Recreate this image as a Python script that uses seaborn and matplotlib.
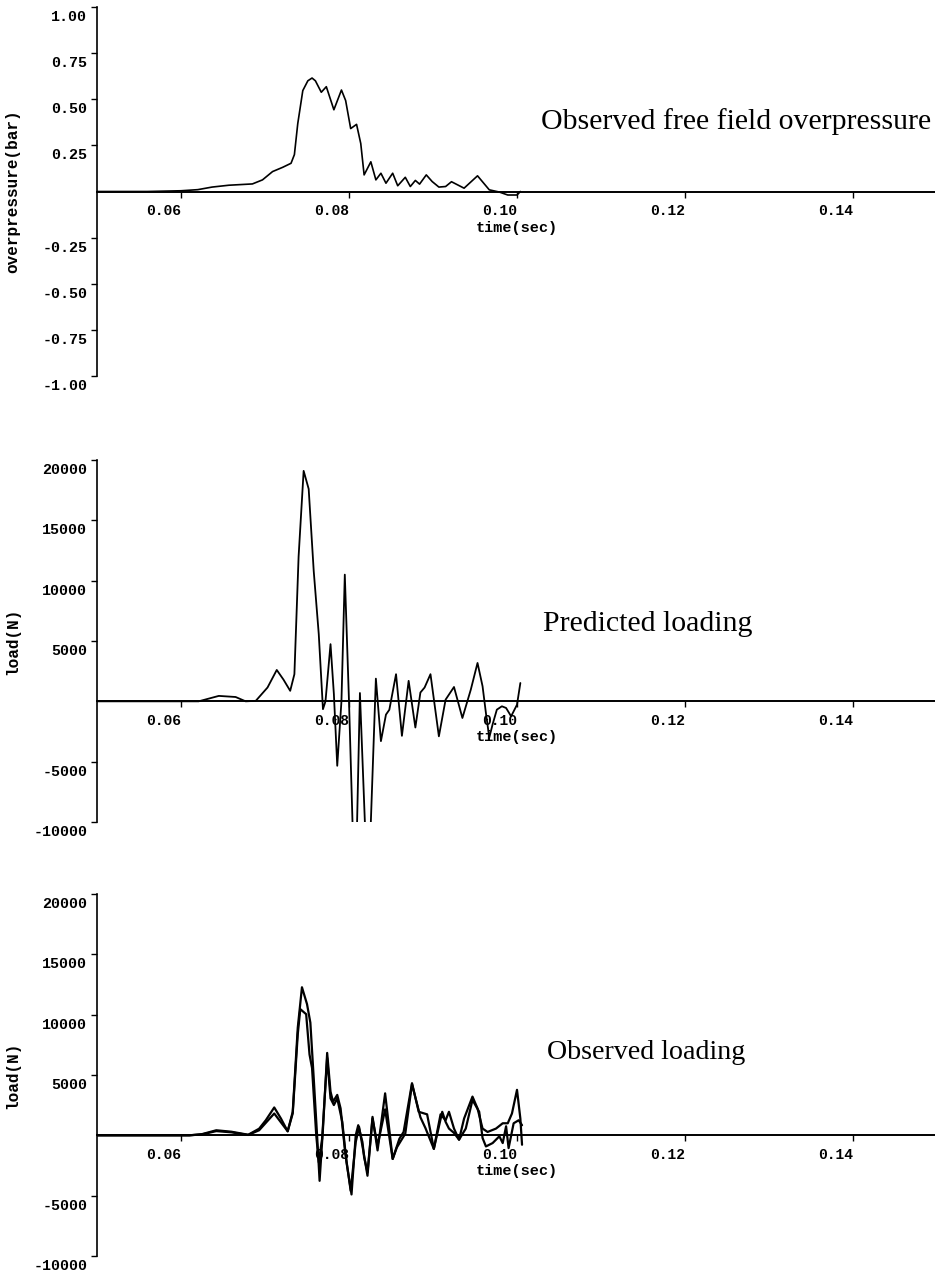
import numpy as np
import pandas as pd
import matplotlib
matplotlib.use("Agg")
import matplotlib.pyplot as plt
import matplotlib.transforms as mtransforms
import seaborn as sns

sns.set_theme(style="ticks")
plt.rcParams['font.family'] = ['Liberation Mono', 'DejaVu Sans']
plt.rcParams.update({'axes.edgecolor': 'black', 'xtick.color': 'black', 'ytick.color': 'black',
                     'text.color': 'black', 'axes.labelcolor': 'black'})

# ---------------- data ----------------
x_ticks = [0.06, 0.08, 0.10, 0.12, 0.14]
x_tick_labels = ['0.06', '0.08', '0.10', '0.12', '0.14']

op_ticks = [1.00, 0.75, 0.50, 0.25, -0.25, -0.50, -0.75, -1.00]
op_tick_labels = ['1.00', '0.75', '0.50', '0.25', '-0.25', '-0.50', '-0.75', '-1.00']
load_ticks = [20000, 15000, 10000, 5000, -5000, -10000]
load_tick_labels = ['20000', '15000', '10000', '5000', '-5000', '-10000']

# Observed free field overpressure (bar)
t_op = [0.0500, 0.0560, 0.0600, 0.0620, 0.0637, 0.0657, 0.0685, 0.0697, 0.0709, 0.0721,
        0.0731, 0.0735, 0.0739, 0.0745, 0.0751, 0.0756, 0.0760, 0.0767, 0.0773, 0.0782,
        0.0791, 0.0796, 0.0802, 0.0809, 0.0814, 0.0818, 0.0826, 0.0832, 0.0838, 0.0844,
        0.0852, 0.0858, 0.0867, 0.0873, 0.0879, 0.0884, 0.0892, 0.0899, 0.0907, 0.0915,
        0.0922, 0.0937, 0.0953, 0.0967, 0.0979, 0.0989, 0.1000, 0.1004]
p_op = [0.000, 0.000, 0.004, 0.010, 0.024, 0.034, 0.041, 0.063, 0.108, 0.131,
        0.153, 0.200, 0.368, 0.547, 0.600, 0.615, 0.600, 0.538, 0.568, 0.443,
        0.550, 0.493, 0.341, 0.364, 0.260, 0.090, 0.161, 0.063, 0.099, 0.045,
        0.099, 0.031, 0.077, 0.027, 0.060, 0.040, 0.090, 0.054, 0.024, 0.027,
        0.053, 0.018, 0.085, 0.009, -0.003, -0.019, -0.019, 0.000]

# Predicted loading (N)
t_pred = [0.0500, 0.0600, 0.0621, 0.0645, 0.0665, 0.0677, 0.0689, 0.0703, 0.0714, 0.0722,
          0.0730, 0.0735, 0.0740, 0.0746, 0.0752, 0.0758, 0.0764, 0.0769, 0.0772, 0.0778,
          0.0782, 0.0786, 0.0791, 0.0795, 0.0800, 0.0805, 0.0809, 0.0813, 0.0820, 0.0825,
          0.0832, 0.0838, 0.0844, 0.0848, 0.0856, 0.0863, 0.0871, 0.0879, 0.0885, 0.0890,
          0.0897, 0.0907, 0.0915, 0.0925, 0.0935, 0.0945, 0.0953, 0.0959, 0.0963, 0.0967,
          0.0971, 0.0976, 0.0982, 0.0987, 0.0993, 0.1000, 0.1004]
f_pred = [0, 0, 0, 450, 360, 0, 40, 1145, 2600, 1800,
          870, 2250, 12000, 19100, 17600, 10800, 5570, -650, 0, 4740,
          600, -5340, 0, 10500, 0, -12000, -12000, 690, -12000, -12000,
          1880, -3300, -1100, -700, 2250, -2860, 1700, -2170, 730, 1145,
          2250, -2900, 140, 1190, -1380, 970, 3180, 1250, -970, -3000,
          -1900, -690, -410, -550, -1240, -280, 1520]

# Observed loading, gauge 1 (N)
t_obs1 = [0.0500, 0.0610, 0.0625, 0.0642, 0.0660, 0.0680, 0.0693, 0.0701, 0.0711, 0.0719,
          0.0727, 0.0733, 0.0739, 0.0744, 0.0750, 0.0754, 0.0758, 0.0762, 0.0765, 0.0769,
          0.0774, 0.0778, 0.0781, 0.0786, 0.0790, 0.0795, 0.0802, 0.0808, 0.0812, 0.0818,
          0.0822, 0.0828, 0.0834, 0.0843, 0.0852, 0.0860, 0.0865, 0.0875, 0.0883, 0.0893,
          0.0901, 0.0909, 0.0915, 0.0919, 0.0925, 0.0931, 0.0937, 0.0947, 0.0953, 0.0959,
          0.0965, 0.0975, 0.0983, 0.0989, 0.0994, 0.1000, 0.1004, 0.1006]
f_obs1 = [0, 0, 100, 420, 300, 50, 550, 1255, 2310, 1390,
          335, 1950, 8920, 12270, 10880, 9340, 4740, 0, -3770, 550,
          6830, 3620, 2790, 3350, 2230, -1120, -4600, -560, 700, -1670,
          -3350, 1530, -1250, 3480, -1960, -280, 280, 4320, 1950, 1740,
          -1120, 1740, 1250, 1950, 560, -360, 1390, 3210, 2230, 560,
          280, 560, 1000, 1000, 1810, 3770, 1390, -780]

# Observed loading, gauge 2 (N)
t_obs2 = [0.0500, 0.0610, 0.0625, 0.0642, 0.0660, 0.0680, 0.0693, 0.0711, 0.0727, 0.0733,
          0.0739, 0.0742, 0.0749, 0.0753, 0.0756, 0.0761, 0.0764, 0.0768, 0.0774, 0.0778,
          0.0782, 0.0786, 0.0792, 0.0797, 0.0803, 0.0808, 0.0811, 0.0816, 0.0818, 0.0822,
          0.0828, 0.0834, 0.0843, 0.0852, 0.0857, 0.0867, 0.0875, 0.0885, 0.0891, 0.0901,
          0.0911, 0.0915, 0.0919, 0.0925, 0.0931, 0.0939, 0.0947, 0.0955, 0.0959, 0.0963,
          0.0971, 0.0979, 0.0983, 0.0987, 0.0990, 0.0996, 0.1002, 0.1006]
f_obs2 = [0, 0, 80, 350, 250, 30, 420, 1810, 335, 1810,
          8370, 10460, 10040, 6700, 5580, 0, -2230, -280, 6410, 3060,
          2510, 3060, 1120, -2230, -4900, 0, 840, -560, -1810, -3070,
          1390, -840, 2150, -1960, -1000, 140, 4250, 1500, 600, -1120,
          1950, 1120, 560, 200, -360, 560, 2930, 1950, -220, -920,
          -640, -80, -640, 750, -1060, 1000, 1250, 840]

# ---------------- figure ----------------
fig = plt.figure(figsize=(9.35, 12.72), dpi=100)
W, H = 935.0, 1272.0
left = 97 / W
width = (935 - 97) / W
XMAX = 0.05 + 838 / 8400.0
shift_down = mtransforms.ScaledTranslation(0, -3 / 100.0, fig.dpi_scale_trans)


def make_axes(top_px, bot_px):
    return fig.add_axes([left, 1 - bot_px / H, width, (bot_px - top_px) / H])


def style(ax, yticks, ylabels, ylim, ylabel):
    ax.set_xlim(0.05, XMAX)
    ax.set_ylim(*ylim)
    for s in ['top', 'right']:
        ax.spines[s].set_visible(False)
    ax.spines['bottom'].set_position(('data', 0))
    ax.spines['left'].set_linewidth(1.2)
    ax.spines['bottom'].set_linewidth(1.4)
    ax.set_xticks(x_ticks)
    ax.set_xticklabels(x_tick_labels, ha='right', fontweight='bold', fontsize=10.5)
    ax.set_yticks(yticks)
    ax.set_yticklabels(ylabels, va='top', fontweight='bold', fontsize=10.8)
    ax.tick_params(axis='both', direction='out', length=4, width=1)
    ax.tick_params(axis='x', pad=5)
    ax.tick_params(axis='y', pad=3)
    for lab in ax.get_yticklabels():
        lab.set_transform(lab.get_transform() + shift_down)
    ax.set_xlabel('')
    ax.set_ylabel(ylabel, fontsize=11.5, fontweight='bold')
    ax.yaxis.set_label_coords(-0.091, 0.5)
    ax.annotate('time(sec)', xy=(0.10, 0), xycoords='data', xytext=(0, -26),
                textcoords='offset points', ha='center', va='center',
                fontweight='bold', fontsize=11)
    ax.patch.set_alpha(0)


serif = ['Liberation Serif', 'DejaVu Serif']

# Panel 1
ax1 = make_axes(7, 376)
sns.lineplot(x=t_op, y=p_op, ax=ax1, color='black', linewidth=1.2, sort=False, estimator=None)
style(ax1, op_ticks, op_tick_labels, (-1.0, 1.0), 'overpressure(bar)')
ax1.text(0.1029, 0.380, 'Observed free field overpressure', family=serif, fontsize=21.5,
         ha='left', va='center')

# Panel 2
ax2 = make_axes(460, 822)
sns.lineplot(x=t_pred, y=f_pred, ax=ax2, color='black', linewidth=1.3, sort=False, estimator=None)
style(ax2, load_ticks, load_tick_labels, (-10000, 20000), 'load(N)')
ax2.text(0.1031, 6450, 'Predicted loading', family=serif, fontsize=21.5, ha='left', va='center')

# Panel 3
ax3 = make_axes(894, 1256)
sns.lineplot(x=t_obs1, y=f_obs1, ax=ax3, color='black', linewidth=1.6, sort=False, estimator=None)
sns.lineplot(x=t_obs2, y=f_obs2, ax=ax3, color='black', linewidth=1.6, sort=False, estimator=None)
style(ax3, load_ticks, load_tick_labels, (-10000, 20000), 'load(N)')
ax3.text(0.1036, 6900, 'Observed loading', family=serif, fontsize=20.2, ha='left', va='center')

fig.savefig('out.png', dpi=100, facecolor='white')
